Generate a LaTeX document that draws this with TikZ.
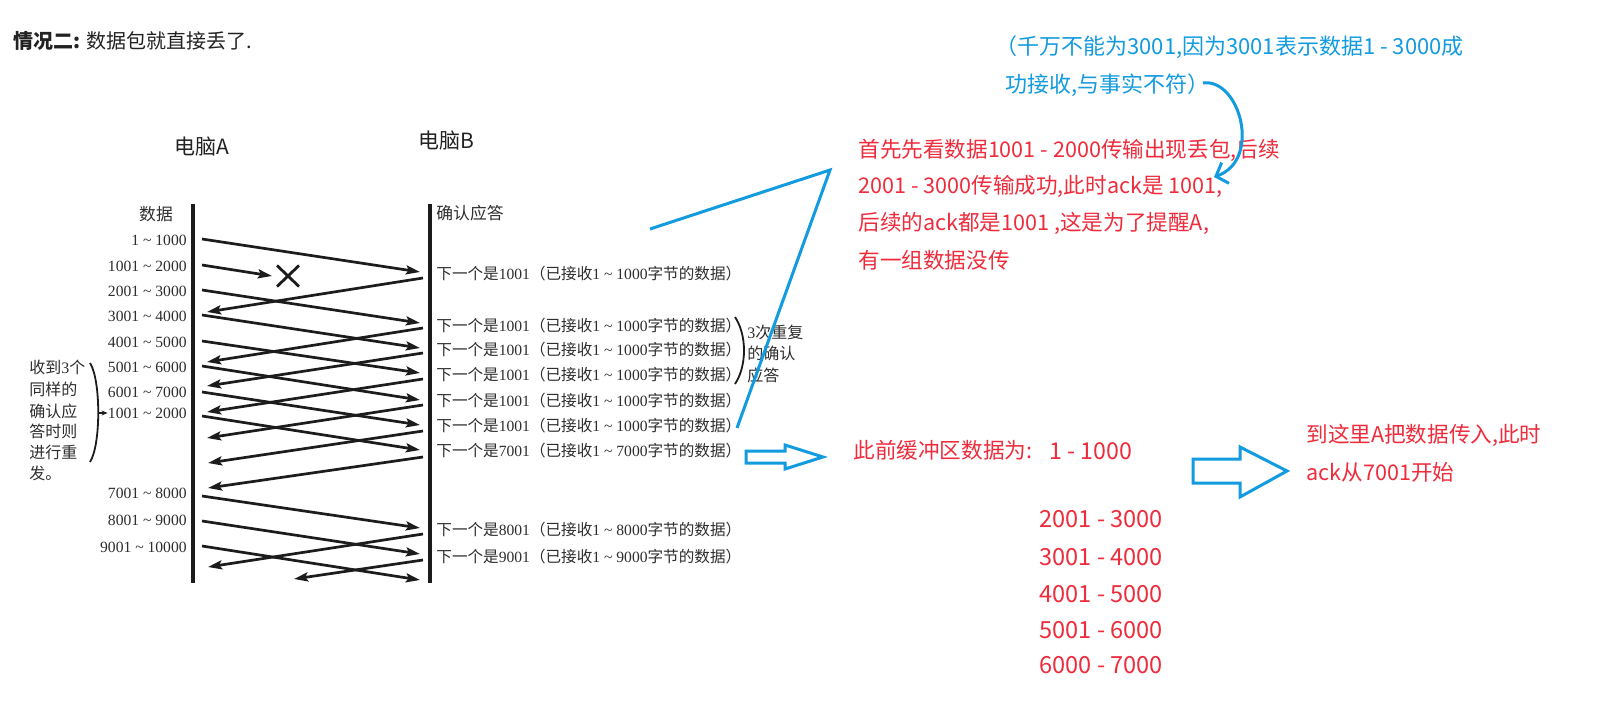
\documentclass[tikz,border=0pt]{standalone}
\usepackage{fontspec}
\setmainfont{Noto Sans CJK SC}
\newfontfamily\tnr{Liberation Serif}
\usetikzlibrary{arrows.meta}

\begin{document}
\begin{tikzpicture}[x=0.5pt, y=-0.5pt,
    lifeline/.style={draw=inkColour, line width=1.65pt},
    packet/.style={draw=inkColour, line width=1.35pt, -{Stealth[length=7pt,width=4.5pt,inset=1.3pt]}},
    inkline/.style={draw=inkColour, line width=0.9pt},
    seglabel/.style={anchor=east, inner sep=0pt, text=textColour, font=\fontsize{7.8}{9}\selectfont},
    acklabel/.style={anchor=west, inner sep=0pt, text=textColour, font=\fontsize{7.8}{9}\selectfont},
    notelabel/.style={anchor=west, inner sep=0pt, text=textColour, font=\fontsize{8}{9}\selectfont},
    hostlabel/.style={anchor=west, inner sep=0pt, text=titleColour, font=\fontsize{10.5}{12}\selectfont},
    redtext/.style={anchor=west, inner sep=0pt, text=noteRed, font=\fontsize{10.8}{12}\selectfont},
    bluetext/.style={anchor=west, inner sep=0pt, text=noteBlue, font=\fontsize{11}{12}\selectfont},
    blueline/.style={draw=noteBlue, line width=1.5pt},
    hollow/.style={draw=noteBlue, line width=1.5pt, line join=miter}]
    % Define colours
    \definecolor{inkColour}{HTML}{1C1C1C}
    \definecolor{textColour}{HTML}{2E2E2E}
    \definecolor{titleColour}{HTML}{222222}
    \definecolor{noteRed}{HTML}{EE2C3C}
    \definecolor{noteBlue}{HTML}{139BDF}

    % Page frame
    \fill[white, use as bounding box] (0,0) rectangle (1597,706);

    % Title
    \node[anchor=west, inner sep=0pt, text=titleColour, font=\fontsize{10}{12}\selectfont] (title) at (13,41) {\textbf{情况二:} 数据包就直接丢了.};

    % Hosts and lifelines
    \node[hostlabel] (hostA) at (174,147) {电脑A};
    \node[hostlabel] (hostB) at (418,141) {电脑B};
    \draw[lifeline] (193,204) -- (193,583);
    \draw[lifeline] (430,204) -- (430,583);

    \node[text=textColour, inner sep=0pt, font=\fontsize{8.4}{9}\selectfont] (dataHead) at (156,214) {数据};
    \node[acklabel, font=\fontsize{8.4}{9}\selectfont] (ackHead) at (436,213) {确认应答};

    % Segment labels on side A
    \foreach \n/\y/\lo/\hi in {1/240/1/1000, 2/266/1001/2000, 3/291/2001/3000, 4/316/3001/4000,
        5/342/4001/5000, 6/367/5001/6000, 7/392/6001/7000, 8/413/1001/2000,
        9/493/7001/8000, 10/520/8001/9000, 11/547/9001/10000}
        \node[seglabel] (d\n) at (187,\y) {{\tnr \lo\ \textasciitilde\ \hi}};

    % Acknowledgement labels on side B
    \foreach \n/\y/\nxt/\upto in {1/274/1001/1000, 2/326/1001/1000, 3/350/1001/1000, 4/375/1001/1000,
        5/401/1001/1000, 6/426/1001/1000, 7/451/7001/7000, 8/530/8001/8000, 9/557/9001/9000}
        \node[acklabel] (k\n) at (436,\y) {下一个是{\tnr\nxt}（已接收{\tnr 1 \textasciitilde{} \upto}字节的数据）};

    % Data segments A -> B
    \foreach \n/\ys/\ye in {1/239/272, 3/290/323, 4/315/348, 5/341/373, 6/366/400,
        7/392/425, 8/416/450, 9/496/528, 10/521/554, 11/546/580} {
        \coordinate (ds\n) at (202,\ys);
        \coordinate (de\n) at (420,\ye);
        \draw[packet] (ds\n) -- (de\n);
    }

    % Lost segment
    \coordinate (ds2) at (202,265);
    \coordinate (lost) at (272,276);
    \coordinate (cross) at (288,276);
    \draw[packet] (ds2) -- (lost);
    \draw[draw=inkColour, line width=1.4pt] (cross) +(-11,-10.5) -- +(11,10.5) (cross) +(-11,10.5) -- +(11,-10.5);

    % Acknowledgements B -> A
    \foreach \n/\ys/\xe/\ye in {1/278/207/312, 2/328/207/362, 3/353/207/386, 4/379/207/412,
        5/405/207/438, 6/431/208/463, 7/457/208/488, 8/534/208/567, 9/560/294/579} {
        \coordinate (as\n) at (423,\ys);
        \coordinate (ae\n) at (\xe,\ye);
        \draw[packet] (as\n) -- (ae\n);
    }

    % Note on the left with brace
    \foreach \i/\y/\t in {1/367/{收到{\tnr 3}个}, 2/389/同样的, 3/411/确认应, 4/431/答时则, 5/452/进行重, 6/473/发。}
        \node[notelabel] (left\i) at (29,\y) {\t};
    \coordinate (braceTop) at (90,363);
    \coordinate (braceTip) at (98,413);
    \coordinate (braceBot) at (90,462);
    \draw[inkline] (braceTop) .. controls (101,380) and (101,445) .. (braceBot);
    \draw[inkline, -{Stealth[length=3pt,width=2.5pt]}] (braceTip) -- (d8.west);

    % Note on the right with brace
    \draw[inkline] (735,317) .. controls (747,335) and (747,366) .. (735,384);
    \foreach \i/\y/\t in {1/332/{{\tnr 3}次重复}, 2/353/的确认, 3/375/应答}
        \node[notelabel] (right\i) at (747,\y) {\t};

    % Red explanation
    \foreach \i/\y/\t in {1/150/{首先先看数据1001 - 2000传输出现丢包,后续},
        2/186/{2001 - 3000传输成功,此时ack是 1001,},
        3/223/{后续的ack都是1001 ,这是为了提醒A,},
        4/260/{有一组数据没传}}
        \node[redtext] (expl\i) at (858,\y) {\t};

    % Blue remark with curved arrow
    \node[bluetext] (remark1) at (995,47) {（千万不能为3001,因为3001表示数据1 - 3000成};
    \node[bluetext] (remark2) at (1005,85) {功接收,与事实不符）};
    \coordinate (curveStart) at (1203,83);
    \coordinate (curveEnd) at (1214,177);
    \draw[blueline, -{Straight Barb[length=5pt,width=11pt]}] (curveStart) .. controls (1240,78) and (1262,160) .. (curveEnd);

    % Blue pointer line
    \coordinate (ptr1) at (650,229);
    \coordinate (ptr2) at (830,170);
    \coordinate (ptr3) at (737,428);
    \draw[blueline] (ptr1) -- (ptr2) -- (ptr3);

    % Buffer contents
    \draw[hollow] (746,451) -- (785,451) -- (785,445) -- (823,457) -- (785,469) -- (785,463) -- (746,463) -- cycle;
    \node[redtext] (buffer) at (853,450) {此前缓冲区数据为:};
    \node[redtext, font=\fontsize{11.6}{12}\selectfont] (buf0) at (1049,451) {1 - 1000};
    \foreach \i/\y/\t in {1/519/2001 - 3000, 2/557/3001 - 4000, 3/594/4001 - 5000, 4/630/5001 - 6000, 5/665/6000 - 7000}
        \node[redtext, font=\fontsize{11.8}{12}\selectfont] (buf\i) at (1039,\y) {\t};

    % Resend result
    \draw[hollow] (1193,459) -- (1240,459) -- (1240,447) -- (1287,471) -- (1240,497) -- (1240,483) -- (1193,483) -- cycle;
    \node[redtext] (result1) at (1306,435) {到这里A把数据传入,此时};
    \node[redtext] (result2) at (1306,472) {ack从7001开始};

\end{tikzpicture}
\end{document}
